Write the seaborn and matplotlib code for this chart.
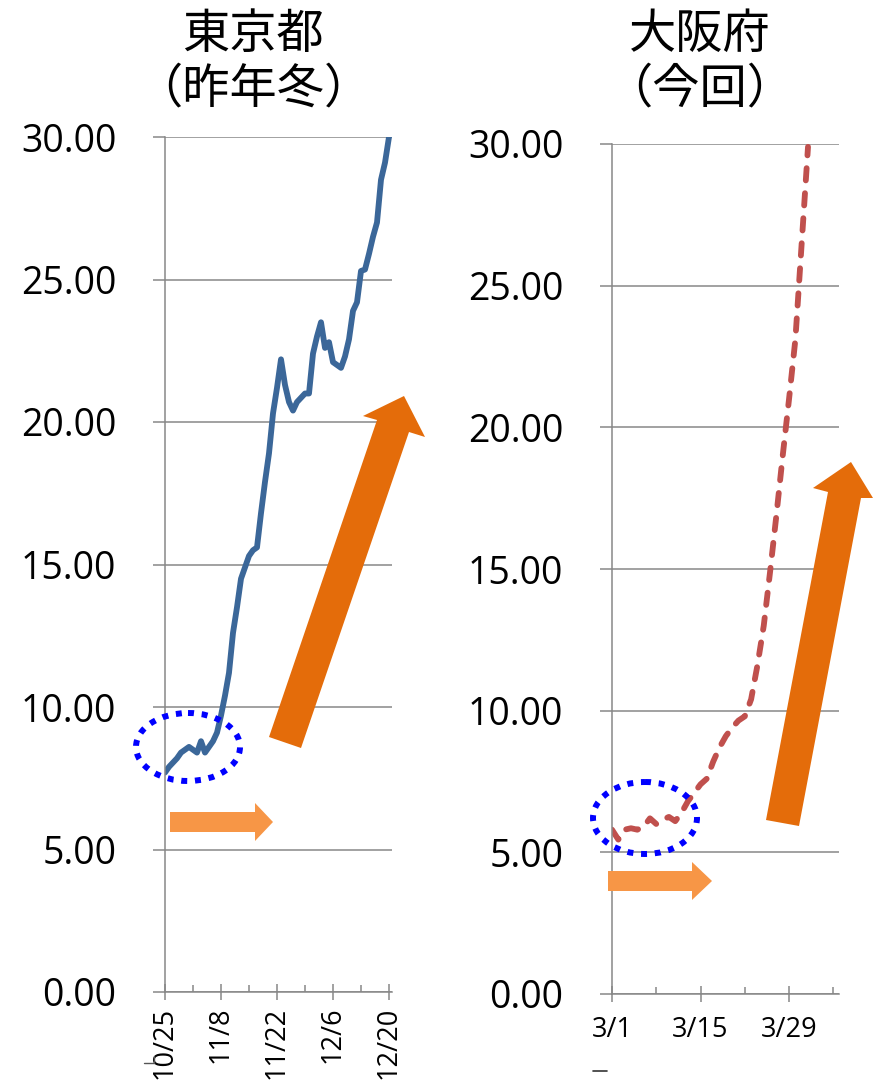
import matplotlib
matplotlib.use("Agg")
import matplotlib.pyplot as plt
from matplotlib.patches import Polygon, Ellipse
import pandas as pd
import seaborn as sns

# Tokyo (last winter), daily from 10/25
tokyo_vals = [7.7, 7.9, 8.05, 8.2, 8.4, 8.5, 8.6, 8.5, 8.4, 8.8,
              8.4, 8.6, 8.8, 9.1, 9.7, 10.4, 11.2, 12.6, 13.5, 14.5,
              14.9, 15.3, 15.5, 15.6, 16.8, 17.9, 18.9, 20.3, 21.2, 22.2,
              21.3, 20.7, 20.4, 20.7, 20.85, 21.0, 21.0, 22.4, 23.0, 23.5,
              22.6, 22.8, 22.1, 22.0, 21.9, 22.3, 22.9, 23.9, 24.2, 25.3,
              25.35, 25.9, 26.5, 27.0, 28.5, 29.1, 30.0]
# Osaka (now), daily from 3/1
osaka_vals = [5.8, 5.45, 5.8, 5.85, 5.8, 5.9, 6.2, 6.0, 6.15, 6.25,
              6.1, 6.4, 6.8, 7.1, 7.4, 7.6, 8.2, 8.7, 9.1, 9.4,
              9.65, 9.8, 10.4, 11.6, 13.0, 14.9, 16.9, 19.0, 21.0, 23.1,
              26.5, 29.9]

tokyo_ticks = ["10/25", "11/8", "11/22", "12/6", "12/20"]
osaka_ticks = ["3/1", "3/15", "3/29"]
y_ticks = [0, 5, 10, 15, 20, 25, 30]
titles = ["東京都\n（昨年冬）", "大阪府\n（今回）"]

tokyo = pd.DataFrame({"date": pd.date_range("2020-10-25", periods=len(tokyo_vals), freq="D"),
                      "value": tokyo_vals})
osaka = pd.DataFrame({"date": pd.date_range("2021-03-01", periods=len(osaka_vals), freq="D"),
                      "value": osaka_vals})

sns.set_style("white")
plt.rcParams["font.family"] = ["Open Sans", "Noto Sans CJK JP", "DejaVu Sans"]
plt.rcParams["text.color"] = "black"
plt.rcParams["xtick.labelcolor"] = "black"
plt.rcParams["ytick.labelcolor"] = "black"

W, H = 873, 1080
fig = plt.figure(figsize=(W / 100, H / 100), dpi=100)
gray = "#878787"

ax1 = fig.add_axes([165 / W, 88 / H, 227 / W, 855 / H])
ax2 = fig.add_axes([612 / W, 86 / H, 227 / W, 850 / H])

sns.lineplot(data=tokyo, x="date", y="value", ax=ax1, color="#3B6799", linewidth=4.2)
sns.lineplot(data=osaka, x="date", y="value", ax=ax2, color="#C0504D", linewidth=4.2,
             linestyle=(0, (2.1, 2.2)), dash_capstyle="round")

def style(ax, df, labels, span, rot, fs, pad):
    start = df["date"].iloc[0]
    ax.set_xlim(start, start + pd.Timedelta(days=span))
    ax.set_ylim(0, 30)
    ax.set_yticks(y_ticks)
    ax.set_yticklabels([f"{v:.2f}" for v in y_ticks], fontsize=27)
    major = [start + pd.Timedelta(days=14 * i) for i in range(len(labels))]
    minor = [start + pd.Timedelta(days=7 + 14 * i) for i in range(len(labels))]
    minor = [m for m in minor if m <= start + pd.Timedelta(days=span)]
    ax.set_xticks(major)
    ax.set_xticklabels(labels, rotation=rot, fontsize=fs)
    ax.set_xticks(minor, minor=True)
    ax.grid(axis="y", color=gray, linewidth=1.1)
    ax.grid(axis="x", visible=False)
    for s in ["top", "right"]:
        ax.spines[s].set_visible(False)
    for s in ["left", "bottom"]:
        ax.spines[s].set_color(gray)
        ax.spines[s].set_linewidth(1.1)
    ax.tick_params(axis="y", which="major", direction="out", length=9, width=1.1,
                   color=gray, pad=26, left=True)
    ax.tick_params(axis="x", which="major", direction="inout", length=11, width=1.1,
                   color=gray, pad=pad, bottom=True)
    ax.tick_params(axis="x", which="minor", direction="in", length=5, width=1.1,
                   color=gray, bottom=True)
    ax.set_xlabel("")
    ax.set_ylabel("")

style(ax1, tokyo, tokyo_ticks, 56.75, 90, 19.5, 5)
style(ax2, osaka, osaka_ticks, 35.9, 0, 19.5, 10)

fig.text(253 / W, 1 - 62 / H, titles[0], ha="center", va="center", fontsize=34,
         family=["Noto Sans CJK JP"], linespacing=1.15)
fig.text(700 / W, 1 - 62 / H, titles[1], ha="center", va="center", fontsize=34,
         family=["Noto Sans CJK JP"], linespacing=1.15)

# annotation layer in pixel coordinates
ov = fig.add_axes([0, 0, 1, 1], zorder=10)
ov.set_xlim(0, W)
ov.set_ylim(H, 0)
ov.axis("off")
ov.patch.set_alpha(0)

dark_orange = "#E46C0A"
light_orange = "#F79646"
ov.add_patch(Polygon([(269, 737), (377, 420), (363, 416), (404, 396), (425, 437),
                      (409, 432), (301, 748)], closed=True, color=dark_orange, lw=0))
ov.add_patch(Polygon([(766, 820), (828, 492), (813, 488), (851, 462), (873, 498),
                      (861, 498), (799, 826)], closed=True, color=dark_orange, lw=0))
ov.add_patch(Polygon([(170, 812), (255, 812), (255, 803), (273, 822), (255, 841),
                      (255, 832), (170, 832)], closed=True, color=light_orange, lw=0))
ov.add_patch(Polygon([(608, 871), (692, 871), (692, 862), (712, 881), (692, 900),
                      (692, 891), (608, 891)], closed=True, color=light_orange, lw=0))
for cx, cy, w, h in [(188, 747, 104, 68), (645, 818, 104, 72)]:
    ov.add_patch(Ellipse((cx, cy), w, h, fill=False, edgecolor="#0000FF", lw=4.3,
                         linestyle=(0, (1, 1.3))))

# small stray marks under the axes
ov.plot([144, 154], [1063, 1063], color="#555555", lw=1)
ov.plot([154, 154], [1056, 1063], color="#555555", lw=1)
ov.plot([593, 607], [1071, 1071], color="#333333", lw=1.2)

fig.savefig("out.png", dpi=100)
